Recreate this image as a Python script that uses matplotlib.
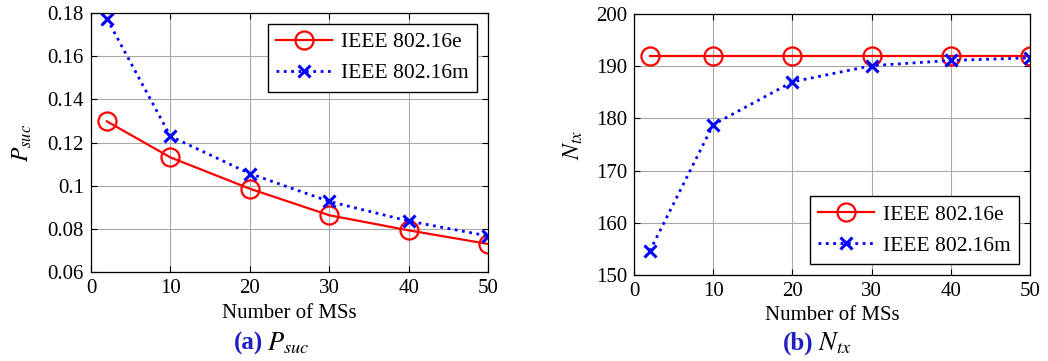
import matplotlib.pyplot as plt

plt.rcParams['font.family'] = 'Liberation Serif'
plt.rcParams['mathtext.fontset'] = 'stix'

# data
num_ms = [2, 10, 20, 30, 40, 50]
psuc_16e = [0.1298, 0.1131, 0.0986, 0.0863, 0.0793, 0.0730]
psuc_16m = [0.1774, 0.1229, 0.1056, 0.0927, 0.0836, 0.0767]
ntx_16e = [192, 192, 192, 192, 192, 192]
ntx_16m = [154.6, 178.8, 187.0, 190.1, 191.1, 191.6]

labels = ['IEEE 802.16e', 'IEEE 802.16m']

fig = plt.figure(figsize=(10.48, 3.61), dpi=100)
W, H = 1048, 361
ax1 = fig.add_axes([91 / W, 1 - 272 / H, 397 / W, 259 / H])
ax2 = fig.add_axes([634 / W, 1 - 275 / H, 396 / W, 261 / H])


def style(ax):
    ax.grid(True, color='#a8a8a8', linewidth=0.8)
    ax.tick_params(direction='in', top=True, right=True, labelsize=15, length=4, pad=5)
    for s in ax.spines.values():
        s.set_linewidth(0.9)
    ax.set_xlim(0, 50)
    ax.set_xticks([0, 10, 20, 30, 40, 50])
    ax.set_xlabel('Number of MSs', fontsize=15, labelpad=4)


ax1.plot(num_ms, psuc_16e, color='red', linestyle='-', linewidth=1.6,
         marker='o', markersize=13, markerfacecolor='none', markeredgewidth=1.6, label=labels[0])
ax1.plot(num_ms, psuc_16m, color='blue', linestyle=':', linewidth=2,
         marker='x', markersize=8, markeredgewidth=2.2, label=labels[1])
style(ax1)
ax1.set_ylim(0.06, 0.18)
ax1.set_yticks([0.06, 0.08, 0.1, 0.12, 0.14, 0.16, 0.18])
ax1.set_yticklabels(['0.06', '0.08', '0.1', '0.12', '0.14', '0.16', '0.18'])
ax1.set_ylabel(r'$P_{suc}$', fontsize=17, labelpad=10)
leg1 = ax1.legend(loc='upper right', fontsize=15.5, fancybox=False, edgecolor='black',
                  framealpha=1, handlelength=2.6, handletextpad=0.4, borderaxespad=0.5)
leg1.get_frame().set_linewidth(1.0)

ax2.plot(num_ms, ntx_16e, color='red', linestyle='-', linewidth=1.6,
         marker='o', markersize=13, markerfacecolor='none', markeredgewidth=1.6, label=labels[0])
ax2.plot(num_ms, ntx_16m, color='blue', linestyle=':', linewidth=2,
         marker='x', markersize=8, markeredgewidth=2.2, label=labels[1])
style(ax2)
ax2.set_ylim(150, 200)
ax2.set_yticks([150, 160, 170, 180, 190, 200])
ax2.set_ylabel(r'$N_{tx}$', fontsize=17, labelpad=8)
leg2 = ax2.legend(loc='lower right', fontsize=15.5, fancybox=False, edgecolor='black',
                  framealpha=1, handlelength=2.6, handletextpad=0.4, borderaxespad=0.5)
leg2.get_frame().set_linewidth(1.0)

# captions
fig.text(263 / W, 1 - 343 / H, '(a)', color='#2020c0', fontsize=18, fontweight='bold',
         ha='right', va='center')
fig.text(267 / W, 1 - 343 / H, r'$P_{suc}$', fontsize=19, ha='left', va='center')
fig.text(814 / W, 1 - 343 / H, '(b)', color='#2020c0', fontsize=18, fontweight='bold',
         ha='right', va='center')
fig.text(818 / W, 1 - 343 / H, r'$N_{tx}$', fontsize=19, ha='left', va='center')

fig.savefig('out.png', dpi=100)
